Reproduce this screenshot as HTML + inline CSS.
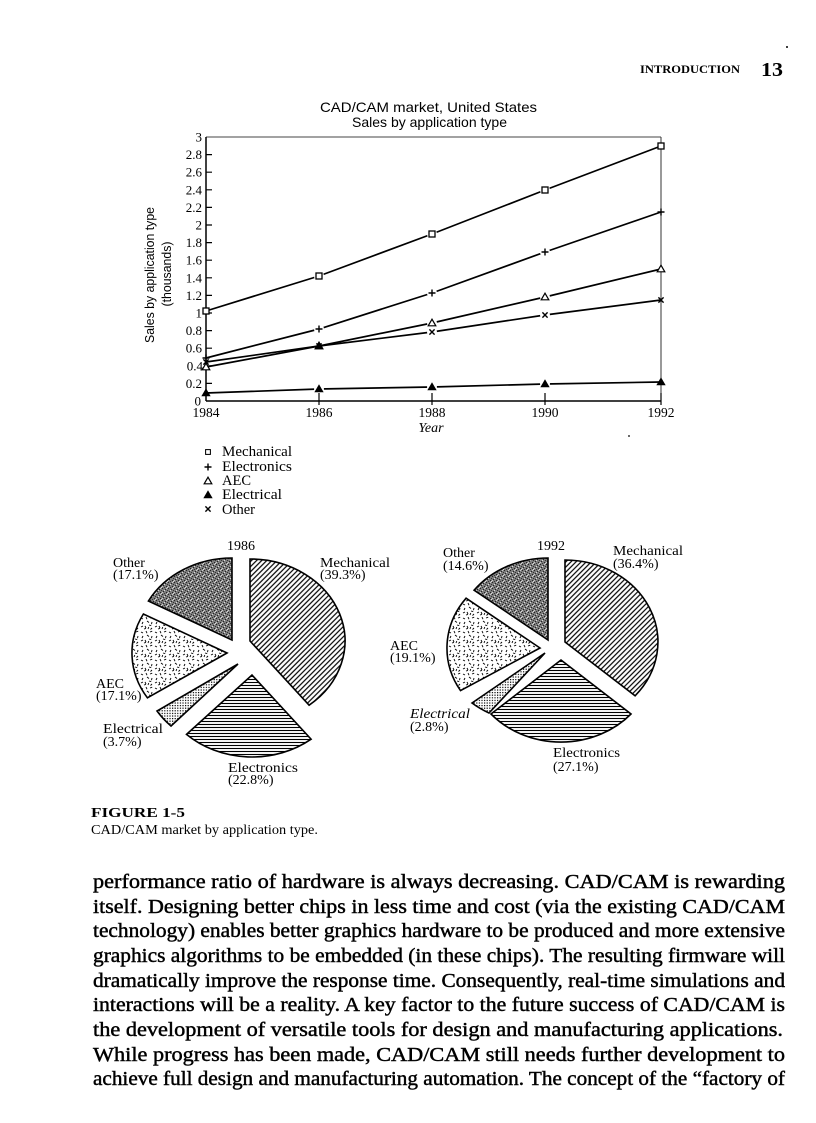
<!DOCTYPE html>
<html>
<head>
<meta charset="utf-8">
<style>
html,body{margin:0;padding:0;background:#fff;}
svg{display:block;}
.serif{font-family:"Liberation Serif",serif;}
.sans{font-family:"Liberation Sans",sans-serif;}
</style>
</head>
<body>
<svg width="816" height="1123" viewBox="0 0 816 1123" xmlns="http://www.w3.org/2000/svg">
<defs>
  <pattern id="hatch" width="3.6" height="3.6" patternUnits="userSpaceOnUse" patternTransform="rotate(45)">
    <rect width="3.6" height="3.6" fill="#fff"/>
    <line x1="1.8" y1="0" x2="1.8" y2="3.6" stroke="#000" stroke-width="1.2"/>
  </pattern>
  <pattern id="horiz" width="4" height="3" patternUnits="userSpaceOnUse">
    <rect width="4" height="3" fill="#fff"/>
    <line x1="0" y1="1.5" x2="4" y2="1.5" stroke="#000" stroke-width="1.1"/>
  </pattern>
  <pattern id="dark" width="6" height="6" patternUnits="userSpaceOnUse">
    <rect width="6" height="6" fill="#7c7c7c"/>
    <rect x="0" y="0" width="1" height="1" fill="#222"/>
    <rect x="3" y="1" width="1" height="1" fill="#222"/>
    <rect x="5" y="2" width="1" height="1" fill="#333"/>
    <rect x="1" y="3" width="1" height="1" fill="#222"/>
    <rect x="4" y="4" width="1" height="1" fill="#222"/>
    <rect x="2" y="5" width="1" height="1" fill="#333"/>
    <rect x="2" y="2" width="1" height="1" fill="#ddd"/>
    <rect x="5" y="5" width="1" height="1" fill="#ddd"/>
    <rect x="4" y="0" width="1" height="1" fill="#ccc"/>
    <rect x="0" y="4" width="1" height="1" fill="#ccc"/>
  </pattern>
  <pattern id="dash" width="14" height="14" patternUnits="userSpaceOnUse">
    <rect width="14" height="14" fill="#fff"/>
    <path d="M1,2 l2,1 M6,1 l1,2.2 M10,2 l2.2,-0.8 M3,6 l-1,2 M7,5 l2,1.5 M12,6 l-0.5,2.2 M1,11 l2,-1 M5,10 l1,2 M9,9 l2.2,0.6 M12,12 l-1.5,1.5 M4,13 l2,-0.6 M8,13 l0.8,-2" stroke="#000" stroke-width="0.9" fill="none"/>
  </pattern>
  <pattern id="dots" width="2.6" height="2.6" patternUnits="userSpaceOnUse">
    <rect width="2.6" height="2.6" fill="#fff"/>
    <rect x="0.4" y="0.4" width="1.2" height="1.2" fill="#000"/>
  </pattern>
  <rect id="sq" x="-3" y="-3" width="6" height="6" fill="#fff" stroke="#000" stroke-width="1.3"/>
  <path id="pl" d="M-3.5,0 h7 M0,-3.5 v7" stroke="#000" stroke-width="1.4" fill="none"/>
  <path id="otri" d="M0,-3.8 L3.8,2.8 L-3.8,2.8 Z" fill="#fff" stroke="#000" stroke-width="1.2"/>
  <path id="ftri" d="M0,-3.8 L3.8,2.8 L-3.8,2.8 Z" fill="#000" stroke="#000" stroke-width="1"/>
  <path id="xx" d="M-2.6,-2.6 l5.2,5.2 M2.6,-2.6 l-5.2,5.2" stroke="#000" stroke-width="1.4" fill="none"/>
  <circle id="gap" r="5" fill="#fff"/>
</defs>

<!-- Header -->
<text class="serif" x="640" y="73" font-size="11.5" font-weight="bold" textLength="100" lengthAdjust="spacingAndGlyphs">INTRODUCTION</text>
<text class="serif" x="761" y="76" font-size="20" font-weight="bold" textLength="22" lengthAdjust="spacingAndGlyphs">13</text>
<circle cx="787" cy="47" r="1" fill="#000"/>

<!-- Chart title -->
<text class="sans" x="320" y="112" font-size="14" textLength="217" lengthAdjust="spacingAndGlyphs">CAD/CAM market, United States</text>
<text class="sans" x="352" y="127" font-size="14" textLength="155" lengthAdjust="spacingAndGlyphs">Sales by application type</text>

<!-- Y axis title -->
<text class="sans" font-size="12.5" text-anchor="middle" transform="translate(154,275) rotate(-90)" textLength="136" lengthAdjust="spacingAndGlyphs">Sales by application type</text>
<text class="sans" font-size="12.5" text-anchor="middle" transform="translate(171,274) rotate(-90)" textLength="65" lengthAdjust="spacingAndGlyphs">(thousands)</text>

<!-- Y tick labels -->
<g class="serif" font-size="13" text-anchor="end">
  <text x="202" y="141.5">3</text>
  <text x="202" y="159.1">2.8</text>
  <text x="202" y="176.7">2.6</text>
  <text x="202" y="194.3">2.4</text>
  <text x="202" y="211.9">2.2</text>
  <text x="202" y="229.5">2</text>
  <text x="202" y="247.1">1.8</text>
  <text x="202" y="264.7">1.6</text>
  <text x="202" y="282.3">1.4</text>
  <text x="202" y="299.9">1.2</text>
  <text x="202" y="317.5">1</text>
  <text x="202" y="335.1">0.8</text>
  <text x="202" y="352.7">0.6</text>
  <text x="203" y="370.3">0.4</text>
  <text x="202" y="387.9">0.2</text>
  <text x="201" y="405.5">0</text>
</g>

<!-- X labels -->
<g class="serif" font-size="13.5" text-anchor="middle">
  <text x="206" y="417">1984</text>
  <text x="319" y="417">1986</text>
  <text x="432" y="417">1988</text>
  <text x="545" y="417">1990</text>
  <text x="661" y="417">1992</text>
</g>
<text class="serif" x="431" y="432" font-size="14" font-style="italic" text-anchor="middle">Year</text>
<circle cx="629" cy="436" r="0.9" fill="#000"/>

<!-- Series lines -->
<g fill="none" stroke="#000" stroke-width="1.7">
  <polyline points="206,311 319,276 432,234 545,190 661,146"/>
  <polyline points="206,358 319,329 432,293 545,252 661,212"/>
  <polyline points="206,367 319,346 432,323 545,297 661,269"/>
  <polyline points="206,362 319,346 432,332 545,315 661,300"/>
  <polyline points="206,393 319,389 432,387 545,384 661,382"/>
</g>
<!-- gaps near markers -->
<g>
  <use href="#gap" x="319" y="276"/><use href="#gap" x="432" y="234"/><use href="#gap" x="545" y="190"/>
  <use href="#gap" x="319" y="329"/><use href="#gap" x="432" y="293"/><use href="#gap" x="545" y="252"/>
  <use href="#gap" x="432" y="323"/><use href="#gap" x="545" y="297"/>
  <use href="#gap" x="432" y="332"/><use href="#gap" x="545" y="315"/>
  <use href="#gap" x="319" y="389"/><use href="#gap" x="432" y="387"/><use href="#gap" x="545" y="384"/>
</g>

<!-- Frame -->
<g stroke="#000" fill="none">
  <line x1="206" y1="137" x2="661" y2="137" stroke-width="1" stroke="#444"/>
  <line x1="661" y1="137" x2="661" y2="401" stroke-width="1" stroke="#333"/>
  <line x1="206" y1="137" x2="206" y2="401" stroke-width="1.5"/>
  <line x1="206" y1="401" x2="661" y2="401" stroke-width="1.5"/>
  <path stroke-width="1.2" d="M206,154.6 h6 M206,172.2 h6 M206,189.8 h6 M206,207.4 h6 M206,225 h6 M206,242.6 h6 M206,260.2 h6 M206,277.8 h6 M206,295.4 h6 M206,313 h6 M206,330.6 h6 M206,348.2 h6 M206,365.8 h6 M206,383.4 h6"/>
  <path stroke-width="1.2" d="M319,393 v12 M432,393 v12 M545,393 v12 M661,393 v12"/>
</g>

<!-- Markers -->
<g>
  <use href="#sq" x="206" y="311"/><use href="#sq" x="319" y="276"/><use href="#sq" x="432" y="234"/><use href="#sq" x="545" y="190"/><use href="#sq" x="661" y="146"/>
  <use href="#pl" x="206" y="358"/><use href="#pl" x="319" y="329"/><use href="#pl" x="432" y="293"/><use href="#pl" x="545" y="252"/><use href="#pl" x="661" y="212"/>
  <use href="#otri" x="206" y="367"/><use href="#otri" x="319" y="346"/><use href="#otri" x="432" y="323"/><use href="#otri" x="545" y="297"/><use href="#otri" x="661" y="269"/>
  <use href="#xx" x="206" y="362"/><use href="#xx" x="319" y="346"/><use href="#xx" x="432" y="332"/><use href="#xx" x="545" y="315"/><use href="#xx" x="661" y="300"/>
  <use href="#ftri" x="206" y="393"/><use href="#ftri" x="319" y="389"/><use href="#ftri" x="432" y="387"/><use href="#ftri" x="545" y="384"/><use href="#ftri" x="661" y="382"/>
  <use href="#ftri" x="319" y="346"/>
</g>

<!-- Legend -->
<g>
  <use href="#sq" x="208" y="452" transform="translate(208,452) scale(0.8) translate(-208,-452)"/>
  <use href="#pl" x="208" y="467"/>
  <use href="#otri" x="208" y="481"/>
  <use href="#ftri" x="208" y="495"/>
  <use href="#xx" x="208" y="509"/>
</g>
<g class="serif" font-size="14.5">
  <text x="222" y="456" textLength="70" lengthAdjust="spacingAndGlyphs">Mechanical</text>
  <text x="222" y="471" textLength="70" lengthAdjust="spacingAndGlyphs">Electronics</text>
  <text x="222" y="485">AEC</text>
  <text x="222" y="499" textLength="60" lengthAdjust="spacingAndGlyphs">Electrical</text>
  <text x="222" y="514">Other</text>
</g>

<!-- Pie 1986 -->
<g stroke="#000" stroke-width="1.6" stroke-linejoin="miter">
  <path d="M250,641 L250,559 A95,82 0 0 1 309.1,705.2 Z" fill="url(#hatch)"/>
  <path d="M252,675 L311.1,739.2 A95,82 0 0 1 186.5,734.4 Z" fill="url(#horiz)"/>
  <path d="M238,664 L171,726 A97,86 0 0 1 157,711 Z" fill="url(#dots)"/>
  <path d="M227,653 L147.4,697.8 A95,82 0 0 1 143.4,614 Z" fill="url(#dash)"/>
  <path d="M232,640 L148.4,601 A95,82 0 0 1 232,558 Z" fill="url(#dark)"/>
</g>
<g class="serif" font-size="14">
  <text x="227" y="550">1986</text>
  <text x="113" y="567">Other</text>
  <text x="113" y="579">(17.1%)</text>
  <text x="320" y="567" textLength="70" lengthAdjust="spacingAndGlyphs">Mechanical</text>
  <text x="320" y="579">(39.3%)</text>
  <text x="96" y="688">AEC</text>
  <text x="96" y="700">(17.1%)</text>
  <text x="103" y="733" textLength="60" lengthAdjust="spacingAndGlyphs">Electrical</text>
  <text x="103" y="746">(3.7%)</text>
  <text x="228" y="772" textLength="70" lengthAdjust="spacingAndGlyphs">Electronics</text>
  <text x="228" y="784">(22.8%)</text>
</g>

<!-- Pie 1992 -->
<g stroke="#000" stroke-width="1.6">
  <path d="M565,642 L565,560 A93,82 0 0 1 635.1,695.8 Z" fill="url(#hatch)"/>
  <path d="M561,660 L631,714 A93,82 0 0 1 491,714 Z" fill="url(#horiz)"/>
  <path d="M545,653 L489,713 A93,82 0 0 1 472,703 Z" fill="url(#dots)"/>
  <path d="M540,648 L460.5,690.6 A93,82 0 0 1 466.1,598.2 Z" fill="url(#dash)"/>
  <path d="M548,640 L474.1,590.2 A93,82 0 0 1 548,558 Z" fill="url(#dark)"/>
</g>
<g class="serif" font-size="14">
  <text x="537" y="550">1992</text>
  <text x="443" y="557">Other</text>
  <text x="443" y="570">(14.6%)</text>
  <text x="613" y="555" textLength="70" lengthAdjust="spacingAndGlyphs">Mechanical</text>
  <text x="613" y="568">(36.4%)</text>
  <text x="390" y="650">AEC</text>
  <text x="390" y="662">(19.1%)</text>
  <text x="410" y="718" font-style="italic" textLength="60" lengthAdjust="spacingAndGlyphs">Electrical</text>
  <text x="410" y="731">(2.8%)</text>
  <text x="553" y="757" textLength="67" lengthAdjust="spacingAndGlyphs">Electronics</text>
  <text x="553" y="771">(27.1%)</text>
</g>

<!-- Caption -->
<text class="serif" x="91" y="817" font-size="14" font-weight="bold" textLength="94" lengthAdjust="spacingAndGlyphs">FIGURE 1-5</text>
<text class="serif" x="91" y="834" font-size="14" textLength="227" lengthAdjust="spacingAndGlyphs">CAD/CAM market by application type.</text>

<!-- Body text -->
<g class="serif" font-size="20" fill="#000" stroke="#000" stroke-width="0.45">
  <text x="93" y="888" textLength="692" lengthAdjust="spacingAndGlyphs">performance ratio of hardware is always decreasing. CAD/CAM is rewarding</text>
  <text x="93" y="913" textLength="692" lengthAdjust="spacingAndGlyphs">itself. Designing better chips in less time and cost (via the existing CAD/CAM</text>
  <text x="93" y="937" textLength="692" lengthAdjust="spacingAndGlyphs">technology) enables better graphics hardware to be produced and more extensive</text>
  <text x="93" y="962" textLength="692" lengthAdjust="spacingAndGlyphs">graphics algorithms to be embedded (in these chips). The resulting firmware will</text>
  <text x="93" y="987" textLength="692" lengthAdjust="spacingAndGlyphs">dramatically improve the response time. Consequently, real-time simulations and</text>
  <text x="93" y="1011" textLength="692" lengthAdjust="spacingAndGlyphs">interactions will be a reality. A key factor to the future success of CAD/CAM is</text>
  <text x="93" y="1036" textLength="690" lengthAdjust="spacingAndGlyphs">the development of versatile tools for design and manufacturing applications.</text>
  <text x="93" y="1061" textLength="692" lengthAdjust="spacingAndGlyphs">While progress has been made, CAD/CAM still needs further development to</text>
  <text x="93" y="1085" textLength="692" lengthAdjust="spacingAndGlyphs">achieve full design and manufacturing automation. The concept of the “factory of</text>
</g>
</svg>
</body>
</html>
